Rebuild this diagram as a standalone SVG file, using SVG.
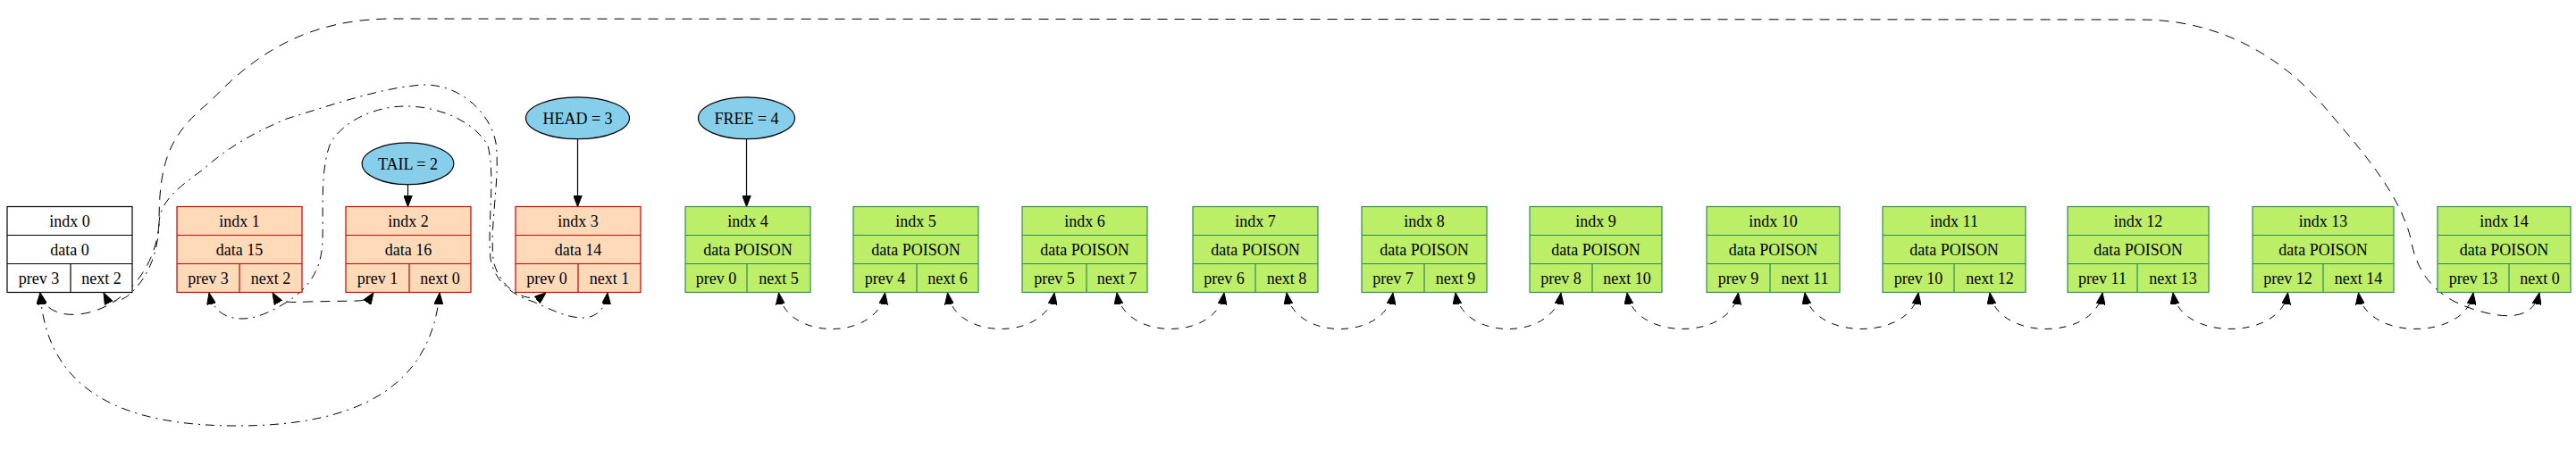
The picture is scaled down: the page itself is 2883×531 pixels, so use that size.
<svg xmlns="http://www.w3.org/2000/svg" width="2883" height="531" viewBox="0 0 2883 531">
<style>
text{font-family:"Liberation Serif","Times New Roman",serif;font-size:18px;text-anchor:middle;fill:#000}
rect,line{stroke-width:1.2}
.w rect{fill:#fff;stroke:#000}.w line{stroke:#000}
.u rect{fill:#ffdab9;stroke:#cd0000}.u line{stroke:#cd0000}
.f rect{fill:#bcee68;stroke:#2e8b57}.f line{stroke:#2e8b57}
ellipse{fill:#87ceeb;stroke:#000;stroke-width:1.2}
.e{fill:none;stroke:#000;stroke-width:1;marker-start:url(#ah);marker-end:url(#ah)}
.s{fill:none;stroke:#000;stroke-width:1.2;marker-end:url(#ah)}
.da{stroke-dasharray:8 8}
.db{stroke-dasharray:10 6 2 6}
.dc{stroke-dasharray:11 8}
</style>
<defs>
<marker id="ah" markerUnits="userSpaceOnUse" viewBox="0 0 13 10" markerWidth="13" markerHeight="10" refX="13" refY="5" orient="auto-start-reverse">
<path d="M0,0 L13,5 L0,10 Z" fill="#000" stroke="#000" stroke-width="1"/>
</marker>
</defs>
<rect x="0" y="0" width="2883" height="531" fill="#fff"/>

<g id="edges">
<path class="e dc" d="M45,328 C49,348 70,357 100,350 C140,340 175,300 178,250 C178,180 190,150 236,113 C290,55 350,22 436,21 L2396,22 C2480,22 2550,60 2600,118 C2640,165 2685,215 2698,267 C2705,310 2730,335 2770,347 C2805,358 2835,358 2842,328"/>
<path class="e db" d="M116,328 C122,340 135,340 148,327 C165,310 177,285 178,250 C179,225 200,210 227,190 C255,165 285,148 321,133 C370,118 430,97 475,95 C515,95 548,125 555,160 C560,200 548,250 552,290 C556,320 590,345 611,328"/>
<path class="e db" d="M234,328 C238,348 252,357 271,357 C290,357 312,345 329,333 C348,318 360,300 361,270 C362,235 358,190 370,160 C385,135 420,119 454,119 C490,119 530,135 546,163 C555,200 545,250 549,290 C553,315 575,332 597,338 C615,346 634,356 652,356 C668,356 678,345 680,328"/>
<path class="e db" d="M45,328 C52,440 140,477 265,477 C390,477 482,440 492,328"/>
<path class="e dc" d="M305,328 C312,340 325,339 345,338 L400,337 C408,337 414,334 418,328"/>
<path class="e da" d="M871.5,328 C879.5,382 982.5,382 990.5,328"/>
<path class="e da" d="M1060.5,328 C1068.5,382 1172,382 1180,328"/>
<path class="e da" d="M1250,328 C1258,382 1362,382 1370,328"/>
<path class="e da" d="M1440,328 C1448,382 1551,382 1559,328"/>
<path class="e da" d="M1629,328 C1637,382 1739,382 1747,328"/>
<path class="e da" d="M1821,328 C1829,382 1937.5,382 1945.5,328"/>
<path class="e da" d="M2020,328 C2028,382 2139,382 2147,328"/>
<path class="e da" d="M2227,328 C2235,382 2345,382 2353,328"/>
<path class="e da" d="M2432,328 C2440,382 2552.5,382 2560.5,328"/>
<path class="e da" d="M2639.5,328 C2647.5,382 2760,382 2768,328"/>
<path class="s" d="M456.5,206.7 L456.5,231.5"/>
<path class="s" d="M646.5,155.6 L646.5,231.5"/>
<path class="s" d="M835.5,155.7 L835.5,231.5"/>
</g>

<g id="tail"><ellipse cx="456.5" cy="183.3" rx="51.3" ry="23.4"/><text x="456.5" y="189.5">TAIL = 2</text></g>
<g id="head"><ellipse cx="646.5" cy="132.3" rx="58" ry="23.4"/><text x="646.5" y="138.5">HEAD = 3</text></g>
<g id="free"><ellipse cx="835.5" cy="132.3" rx="54" ry="23.4"/><text x="835.5" y="138.5">FREE = 4</text></g>

<g id="node0" class="w"><rect x="8" y="231.5" width="140" height="96"/><line x1="8" y1="263.5" x2="148" y2="263.5"/><line x1="8" y1="295.5" x2="148" y2="295.5"/><line x1="79" y1="295.5" x2="79" y2="327.5"/><text x="78" y="254">indx 0</text><text x="78" y="286">data 0</text><text x="43.5" y="318">prev 3</text><text x="113.5" y="318">next 2</text></g>
<g id="node1" class="u"><rect x="198" y="231.5" width="140" height="96"/><line x1="198" y1="263.5" x2="338" y2="263.5"/><line x1="198" y1="295.5" x2="338" y2="295.5"/><line x1="268" y1="295.5" x2="268" y2="327.5"/><text x="268" y="254">indx 1</text><text x="268" y="286">data 15</text><text x="233" y="318">prev 3</text><text x="303" y="318">next 2</text></g>
<g id="node2" class="u"><rect x="387" y="231.5" width="140" height="96"/><line x1="387" y1="263.5" x2="527" y2="263.5"/><line x1="387" y1="295.5" x2="527" y2="295.5"/><line x1="458" y1="295.5" x2="458" y2="327.5"/><text x="457" y="254">indx 2</text><text x="457" y="286">data 16</text><text x="422.5" y="318">prev 1</text><text x="492.5" y="318">next 0</text></g>
<g id="node3" class="u"><rect x="577" y="231.5" width="140" height="96"/><line x1="577" y1="263.5" x2="717" y2="263.5"/><line x1="577" y1="295.5" x2="717" y2="295.5"/><line x1="647" y1="295.5" x2="647" y2="327.5"/><text x="647" y="254">indx 3</text><text x="647" y="286">data 14</text><text x="612" y="318">prev 0</text><text x="682" y="318">next 1</text></g>
<g id="node4" class="f"><rect x="767" y="231.5" width="140" height="96"/><line x1="767" y1="263.5" x2="907" y2="263.5"/><line x1="767" y1="295.5" x2="907" y2="295.5"/><line x1="836" y1="295.5" x2="836" y2="327.5"/><text x="837" y="254">indx 4</text><text x="837" y="286">data POISON</text><text x="801.5" y="318">prev 0</text><text x="871.5" y="318">next 5</text></g>
<g id="node5" class="f"><rect x="955" y="231.5" width="140" height="96"/><line x1="955" y1="263.5" x2="1095" y2="263.5"/><line x1="955" y1="295.5" x2="1095" y2="295.5"/><line x1="1026" y1="295.5" x2="1026" y2="327.5"/><text x="1025" y="254">indx 5</text><text x="1025" y="286">data POISON</text><text x="990.5" y="318">prev 4</text><text x="1060.5" y="318">next 6</text></g>
<g id="node6" class="f"><rect x="1144" y="231.5" width="140" height="96"/><line x1="1144" y1="263.5" x2="1284" y2="263.5"/><line x1="1144" y1="295.5" x2="1284" y2="295.5"/><line x1="1216" y1="295.5" x2="1216" y2="327.5"/><text x="1214" y="254">indx 6</text><text x="1214" y="286">data POISON</text><text x="1180" y="318">prev 5</text><text x="1250" y="318">next 7</text></g>
<g id="node7" class="f"><rect x="1335" y="231.5" width="140" height="96"/><line x1="1335" y1="263.5" x2="1475" y2="263.5"/><line x1="1335" y1="295.5" x2="1475" y2="295.5"/><line x1="1405" y1="295.5" x2="1405" y2="327.5"/><text x="1405" y="254">indx 7</text><text x="1405" y="286">data POISON</text><text x="1370" y="318">prev 6</text><text x="1440" y="318">next 8</text></g>
<g id="node8" class="f"><rect x="1524" y="231.5" width="140" height="96"/><line x1="1524" y1="263.5" x2="1664" y2="263.5"/><line x1="1524" y1="295.5" x2="1664" y2="295.5"/><line x1="1594" y1="295.5" x2="1594" y2="327.5"/><text x="1594" y="254">indx 8</text><text x="1594" y="286">data POISON</text><text x="1559" y="318">prev 7</text><text x="1629" y="318">next 9</text></g>
<g id="node9" class="f"><rect x="1712" y="231.5" width="148" height="96"/><line x1="1712" y1="263.5" x2="1860" y2="263.5"/><line x1="1712" y1="295.5" x2="1860" y2="295.5"/><line x1="1782" y1="295.5" x2="1782" y2="327.5"/><text x="1786" y="254">indx 9</text><text x="1786" y="286">data POISON</text><text x="1747" y="318">prev 8</text><text x="1821" y="318">next 10</text></g>
<g id="node10" class="f"><rect x="1910" y="231.5" width="149" height="96"/><line x1="1910" y1="263.5" x2="2059" y2="263.5"/><line x1="1910" y1="295.5" x2="2059" y2="295.5"/><line x1="1981" y1="295.5" x2="1981" y2="327.5"/><text x="1984.5" y="254">indx 10</text><text x="1984.5" y="286">data POISON</text><text x="1945.5" y="318">prev 9</text><text x="2020" y="318">next 11</text></g>
<g id="node11" class="f"><rect x="2107" y="231.5" width="160" height="96"/><line x1="2107" y1="263.5" x2="2267" y2="263.5"/><line x1="2107" y1="295.5" x2="2267" y2="295.5"/><line x1="2187" y1="295.5" x2="2187" y2="327.5"/><text x="2187" y="254">indx 11</text><text x="2187" y="286">data POISON</text><text x="2147" y="318">prev 10</text><text x="2227" y="318">next 12</text></g>
<g id="node12" class="f"><rect x="2314" y="231.5" width="158" height="96"/><line x1="2314" y1="263.5" x2="2472" y2="263.5"/><line x1="2314" y1="295.5" x2="2472" y2="295.5"/><line x1="2392" y1="295.5" x2="2392" y2="327.5"/><text x="2393" y="254">indx 12</text><text x="2393" y="286">data POISON</text><text x="2353" y="318">prev 11</text><text x="2432" y="318">next 13</text></g>
<g id="node13" class="f"><rect x="2521" y="231.5" width="158" height="96"/><line x1="2521" y1="263.5" x2="2679" y2="263.5"/><line x1="2521" y1="295.5" x2="2679" y2="295.5"/><line x1="2600" y1="295.5" x2="2600" y2="327.5"/><text x="2600" y="254">indx 13</text><text x="2600" y="286">data POISON</text><text x="2560.5" y="318">prev 12</text><text x="2639.5" y="318">next 14</text></g>
<g id="node14" class="f"><rect x="2728" y="231.5" width="149" height="96"/><line x1="2728" y1="263.5" x2="2877" y2="263.5"/><line x1="2728" y1="295.5" x2="2877" y2="295.5"/><line x1="2808" y1="295.5" x2="2808" y2="327.5"/><text x="2802.5" y="254">indx 14</text><text x="2802.5" y="286">data POISON</text><text x="2768" y="318">prev 13</text><text x="2842.5" y="318">next 0</text></g>
</svg>
